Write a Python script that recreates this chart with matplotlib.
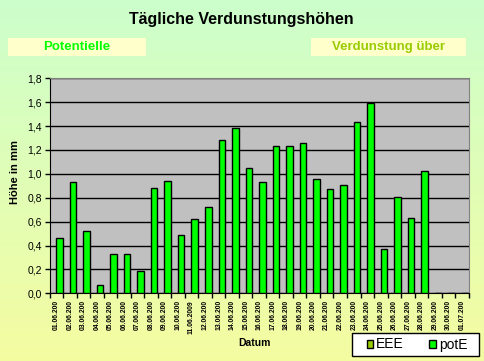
import numpy as np
import matplotlib
matplotlib.use("Agg")
import matplotlib.pyplot as plt
from matplotlib.patches import Rectangle, Patch

plt.rcParams['font.family'] = ['Liberation Sans', 'DejaVu Sans']

# Data
dates = ["01.06.200", "02.06.200", "03.06.200", "04.06.200", "05.06.200",
         "06.06.200", "07.06.200", "08.06.200", "09.06.200", "10.06.200",
         "11.06.2009", "12.06.200", "13.06.200", "14.06.200", "15.06.200",
         "16.06.200", "17.06.200", "18.06.200", "19.06.200", "20.06.200",
         "21.06.200", "22.06.200", "23.06.200", "24.06.200", "25.06.200",
         "26.06.200", "27.06.200", "28.06.200", "29.06.200", "30.06.200",
         "01.07.200"]
pot_e = [0.46, 0.93, 0.52, 0.07, 0.33, 0.33, 0.19, 0.88, 0.94, 0.49,
         0.62, 0.72, 1.28, 1.38, 1.05, 0.93, 1.23, 1.23, 1.26, 0.96,
         0.87, 0.91, 1.43, 1.59, 0.37, 0.81, 0.63, 1.02, 0.0, 0.0, 0.0]
y_ticks = [0.0, 0.2, 0.4, 0.6, 0.8, 1.0, 1.2, 1.4, 1.6, 1.8]

W, H = 484, 361
fig = plt.figure(figsize=(W / 100, H / 100), dpi=100)

# gradient background
bg = fig.add_axes([0, 0, 1, 1], zorder=-10)
top = np.array([0.80, 1.0, 0.80])
bot = np.array([0.96, 0.99, 0.63])
t = np.linspace(0, 1, 256)[:, None]
grad = top * (1 - t) + bot * t
bg.imshow(grad[:, None, :], aspect='auto', extent=[0, 1, 0, 1])
bg.axis('off')

def fx(px):
    return px / W

def fy(py):
    return 1 - py / H

# header boxes
fig.add_artist(Rectangle((fx(8), fy(56)), fx(146) - fx(8), (56 - 38) / H,
                         transform=fig.transFigure, facecolor='#ffffcc', edgecolor='none'))
fig.add_artist(Rectangle((fx(311), fy(56)), fx(466) - fx(311), (56 - 38) / H,
                         transform=fig.transFigure, facecolor='#ffffcc', edgecolor='none'))
fig.text(fx(76.5), fy(47), "Potentielle", color='#00ff00', fontsize=9.5,
         fontweight='bold', ha='center', va='center')
fig.text(fx(388.5), fy(47), "Verdunstung über", color='#99cc00', fontsize=9.5,
         fontweight='bold', ha='center', va='center')

fig.text(fx(241), fy(24), "Tägliche Verdunstungshöhen", fontsize=11.5,
         fontweight='bold', ha='center', va='baseline')

ax = fig.add_axes([fx(49.5), fy(293.3), fx(468.7) - fx(49.5), (293.3 - 78.3) / H])
ax.set_facecolor('#c0c0c0')
x = np.arange(len(dates))
ax.bar(x, pot_e, width=0.48, align='edge', color='#00ff00',
       edgecolor='black', linewidth=1, zorder=3)
ax.set_xlim(-0.5, len(dates) - 0.5)
ax.set_ylim(0, 1.8)
ax.set_yticks(y_ticks)
ax.set_yticklabels([f"{v:.1f}".replace('.', ',') for v in y_ticks], fontsize=7.5)
ax.yaxis.grid(True, color='black', linewidth=1)
ax.set_axisbelow(True)

ax.set_xticks(x)
ax.set_xticklabels(dates, rotation=90, fontsize=4.9, fontweight='bold')
ax.set_xticks(np.arange(-0.5, len(dates)), minor=True)
ax.tick_params(axis='x', which='major', length=0, pad=5)
ax.tick_params(axis='x', which='minor', length=3.5, width=1, direction='out')
ax.tick_params(axis='y', length=3.5, width=1, direction='out', pad=2)

ax.spines['left'].set_color('black')
ax.spines['bottom'].set_color('black')
ax.spines['top'].set_color('#808080')
ax.spines['right'].set_color('#808080')

fig.text(fx(15), fy(172), "Höhe in mm", rotation=90, fontsize=8,
         fontweight='bold', ha='center', va='center')
fig.text(fx(254), fy(343), "Datum", fontsize=7.5, fontweight='bold',
         ha='center', va='center')

# legend frame
fig.add_artist(Rectangle((fx(351.5), fy(356)), fx(478.5) - fx(351.5), (356 - 333) / H,
                         transform=fig.transFigure, facecolor='white',
                         edgecolor='black', linewidth=1))
handles = [Patch(facecolor='#99cc00', edgecolor='black'),
           Patch(facecolor='#00ff00', edgecolor='black')]
leg = fig.legend(handles, ["EEE", "potE"], ncol=2, loc='center left',
                 bbox_to_anchor=(fx(366.5), fy(344.5)), fontsize=10,
                 frameon=False, handlelength=0.5, handleheight=0.5,
                 handletextpad=0.2, columnspacing=1.8, borderpad=0,
                 borderaxespad=0)

fig.savefig("out.png", dpi=100)
